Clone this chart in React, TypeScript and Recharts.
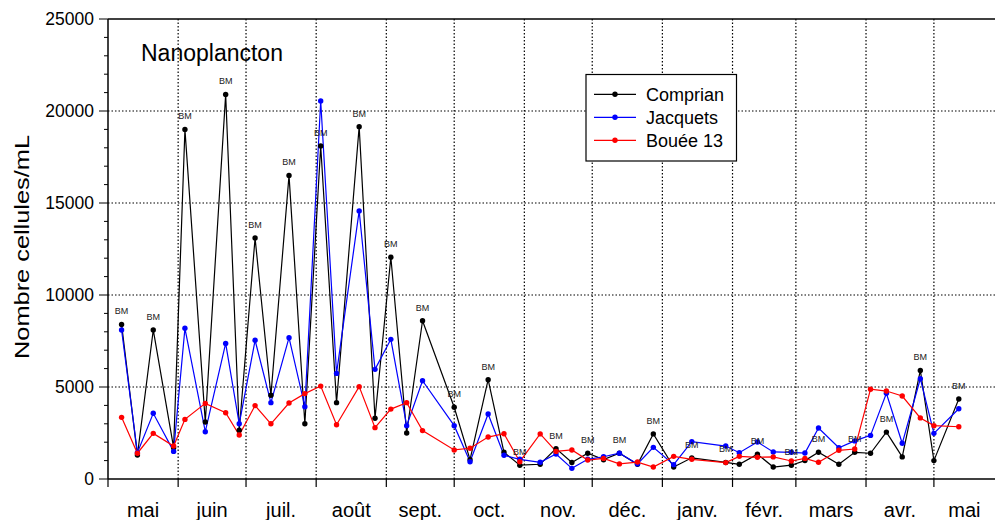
import { LineChart, Line, XAxis, YAxis, ReferenceLine, LabelList } from 'recharts';

// jours comptés depuis le 1er mai
const jours = [6, 13, 20, 29, 34, 43, 52, 58, 65, 72, 80, 87, 94, 101, 111, 118, 125, 132, 139, 153, 160, 168, 175, 182, 191, 198, 205, 212, 219, 226, 234, 241, 250, 258, 273, 279, 287, 294, 302, 308, 314, 323, 330, 337, 344, 351, 359, 365, 376];

const comprian = [8400, 1300, 8100, 1700, 19000, 3100, 20900, 2650, 13100, 4550, 16500, 3000, 18100, 4150, 19150, 3300, 12050, 2500, 8600, 3900, 1050, 5400, 1450, 750, 800, 1650, 900, 1400, 1050, 1400, 800, 2450, 650, 1150, 900, 800, 1350, 650, 750, 1000, 1450, 800, 1450, 1400, 2550, 1200, 5900, 1000, 4350];
const jacquets = [8100, 1430, 3570, 1500, 8190, 2570, 7370, 3000, 7540, 4150, 7680, 3930, 20540, 5740, 14570, 5960, 7590, 2900, 5340, 2900, 940, 3530, 1290, 1070, 910, 1360, 580, 1070, 1210, 1400, 820, 1720, 780, 2030, 1790, 1430, 2010, 1470, 1450, 1410, 2770, 1700, 2070, 2370, 4660, 1940, 5450, 2480, 3820];
const bouee13 = [3350, 1400, 2480, 1790, 3240, 4110, 3600, 2390, 3990, 3000, 4130, 4640, 5050, 2950, 5020, 2790, 3800, 4150, 2630, 1580, 1670, 2280, 2460, 940, 2450, 1500, 1580, 1030, 1120, 820, 920, 650, 1230, 1070, 890, 1230, 1180, 1200, 980, 1120, 910, 1560, 1630, 4880, 4780, 4510, 3320, 2900, 2840];
// prélèvements à basse mer (Comprian)
const bm = [1, 0, 1, 0, 1, 0, 1, 0, 1, 0, 1, 0, 1, 0, 1, 0, 1, 0, 1, 1, 0, 1, 0, 1, 0, 1, 0, 1, 0, 1, 0, 1, 0, 1, 1, 0, 1, 0, 1, 0, 1, 0, 1, 0, 1, 0, 1, 0, 1];

const mois = ['mai', 'juin', 'juil.', 'août', 'sept.', 'oct.', 'nov.', 'déc.', 'janv.', 'févr.', 'mars', 'avr.', 'mai'];
const debutsMois = [0, 31, 61, 92, 123, 153, 184, 214, 245, 276, 304, 335, 365];
const finAxe = 392;
const yMax = 25000;

const milieux = debutsMois.map((d, i) => (d + (i < debutsMois.length - 1 ? debutsMois[i + 1] : finAxe)) / 2);
const xTicks = [...debutsMois, ...milieux].sort((a, b) => a - b);
const yTicks = Array.from({ length: yMax / 1000 + 1 }, (_, i) => i * 1000);

const data = jours.map((j, i) => ({
  jour: j,
  comprian: comprian[i],
  jacquets: jacquets[i],
  bouee: bouee13[i],
  bm: bm[i],
}));

const FONT = '"Liberation Sans", Arial, sans-serif';

function XTick({ x, y, payload }: any) {
  const v = payload.value;
  if (debutsMois.includes(v)) {
    return <line x1={x} x2={x} y1={y} y2={y + 8} stroke="#000" strokeWidth={1.2} />;
  }
  const j = milieux.indexOf(v);
  return (
    <text x={x} y={y + 38} textAnchor="middle" fontSize={20} fontFamily={FONT} fill="#000">
      {mois[j]}
    </text>
  );
}

function YTick({ x, y, payload }: any) {
  const major = payload.value % 5000 === 0;
  return (
    <g>
      <line x1={x - (major ? 9 : 4)} x2={x} y1={y} y2={y} stroke="#000" strokeWidth={1} />
      {major && (
        <text x={x - 14} y={y} dy="0.35em" textAnchor="end" fontSize={17.5} fontFamily={FONT} fill="#000">
          {payload.value}
        </text>
      )}
    </g>
  );
}

function BMLabel(p: any) {
  if (!p.value) return null;
  return (
    <text x={p.x} y={p.y - 10} textAnchor="middle" fontSize={9} fontFamily={FONT} fill="#222">
      BM
    </text>
  );
}

const series = [
  { key: 'comprian', name: 'Comprian', color: '#000000' },
  { key: 'jacquets', name: 'Jacquets', color: '#0000ff' },
  { key: 'bouee', name: 'Bouée 13', color: '#ff0000' },
];

export default function App() {
  return (
    <div style={{ position: 'absolute', left: 0, top: 0, width: 995, height: 520, background: '#fff' }}>
      <LineChart width={995} height={520} data={data} margin={{ top: 19, right: 0, bottom: 0, left: 0 }}>
        <XAxis
          dataKey="jour"
          type="number"
          domain={[0, finAxe]}
          ticks={xTicks}
          interval={0}
          tick={<XTick />}
          tickLine={false}
          tickSize={0}
          tickMargin={0}
          height={41}
          axisLine={{ stroke: '#000', strokeWidth: 1.5 }}
          allowDataOverflow
        />
        <YAxis
          type="number"
          domain={[0, yMax]}
          ticks={yTicks}
          interval={0}
          tick={<YTick />}
          tickLine={false}
          tickSize={0}
          tickMargin={0}
          width={108}
          axisLine={{ stroke: '#000', strokeWidth: 1.5 }}
        />
        {debutsMois.slice(1).map((d) => (
          <ReferenceLine key={'v' + d} x={d} stroke="#000" strokeWidth={1.2} strokeDasharray="1.5 2" />
        ))}
        {[5000, 10000, 15000, 20000].map((v) => (
          <ReferenceLine key={'h' + v} y={v} stroke="#000" strokeWidth={1.2} strokeDasharray="1.5 2" />
        ))}
        <ReferenceLine y={yMax} stroke="#000" strokeWidth={1.5} />
        {series.map((s) => (
          <Line
            key={s.key}
            type="linear"
            dataKey={s.key}
            stroke={s.color}
            strokeWidth={1.2}
            dot={{ r: 2.7, fill: s.color, stroke: 'none' }}
            activeDot={false}
            isAnimationActive={false}
          >
            {s.key === 'comprian' && <LabelList dataKey="bm" content={<BMLabel />} />}
          </Line>
        ))}
      </LineChart>
      <svg width={995} height={520} style={{ position: 'absolute', left: 0, top: 0, pointerEvents: 'none' }}>
        <text x={141} y={61} fontSize={23} fontFamily={FONT} fill="#000">
          Nanoplancton
        </text>
        <text
          transform="translate(29, 247) rotate(-90)"
          textAnchor="middle"
          fontSize={21}
          fontFamily={FONT}
          fill="#000"
          textLength={224}
          lengthAdjust="spacingAndGlyphs"
        >
          Nombre cellules/mL
        </text>
        <rect x={586} y={74.5} width={150.5} height={86.5} fill="#fff" stroke="#000" strokeWidth={1.2} />
        {series.map((s, i) => {
          const cy = 94.3 + i * 23;
          return (
            <g key={s.key}>
              <line x1={594} x2={636} y1={cy} y2={cy} stroke={s.color} strokeWidth={1.2} />
              <circle cx={615} cy={cy} r={2.7} fill={s.color} />
              <text x={646} y={cy} dy="0.35em" fontSize={18} fontFamily={FONT} fill="#000">
                {s.name}
              </text>
            </g>
          );
        })}
      </svg>
    </div>
  );
}
